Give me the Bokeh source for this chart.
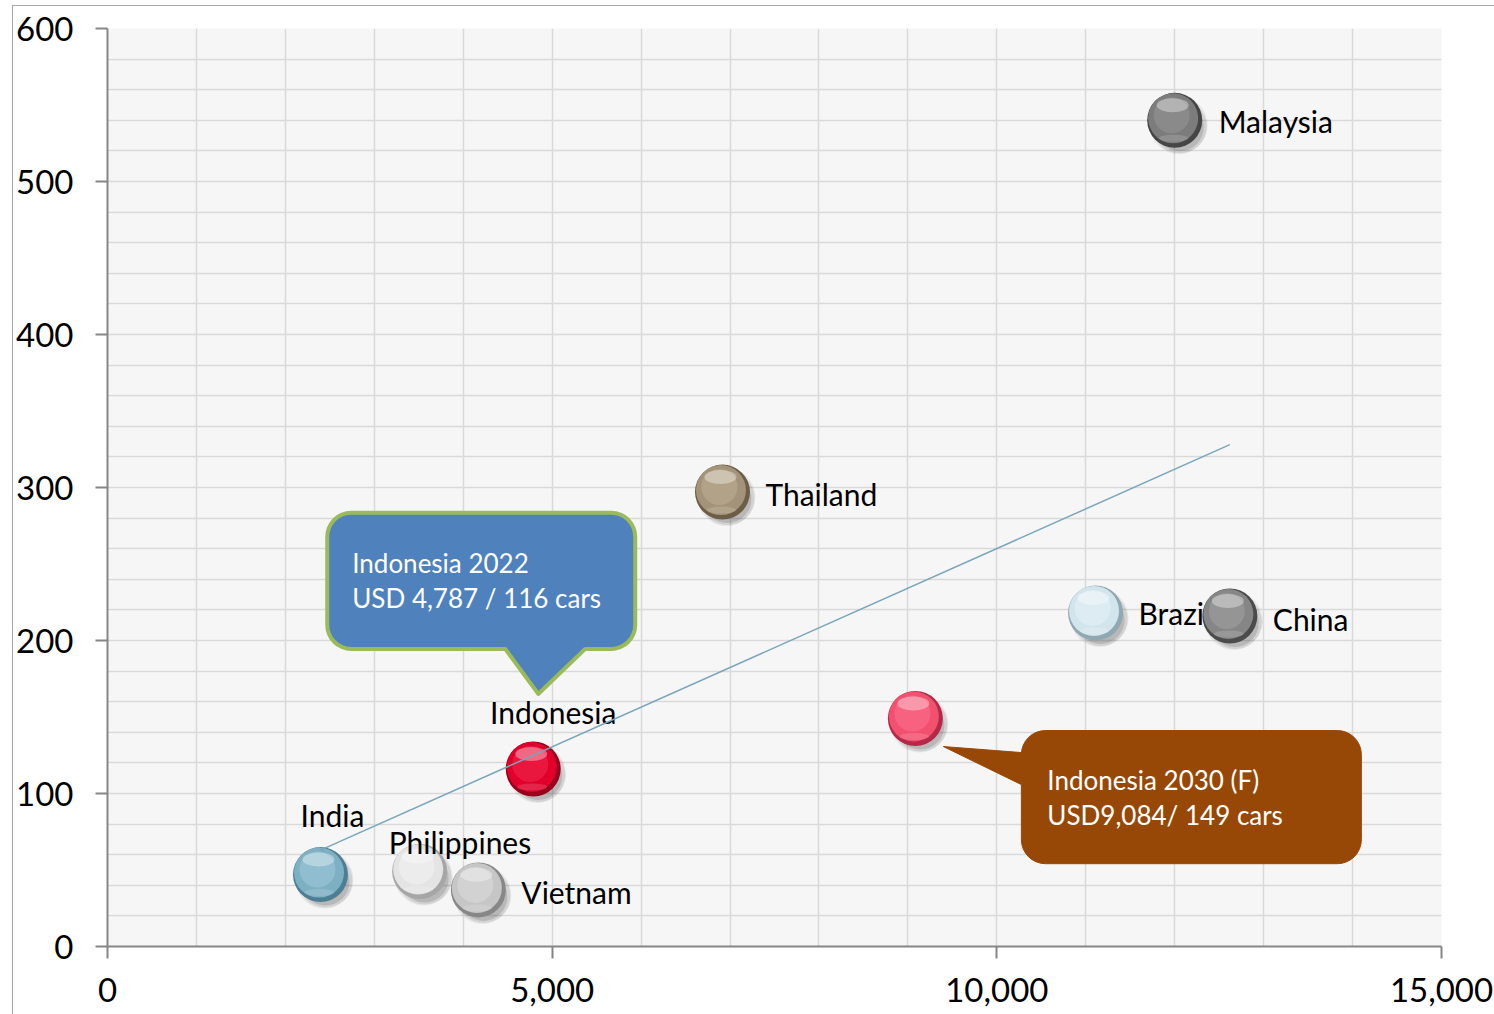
import math
from bokeh.plotting import figure
from bokeh.models import Range1d, SingleIntervalTicker, FixedTicker, NumeralTickFormatter
from bokeh.core.properties import value
from bokeh.embed import file_html
from bokeh.resources import INLINE

# ---- data -------------------------------------------------------------
countries = ["India", "Philippines", "Vietnam", "Indonesia", "Thailand", "Brazil", "China", "Malaysia"]
gdp_per_capita = [2395, 3510, 4170, 4787, 6915, 11110, 12620, 12000]
cars_per_1000 = [47, 49, 37, 116, 297, 218, 216, 540]

forecast_gdp = [9084]
forecast_cars = [149]

trend_x = [2395, 12620]
trend_y = [63, 328]

x_ticks = [0, 5000, 10000, 15000]

# ---- styling ----------------------------------------------------------
FONT = "Lato"
X_MAX, Y_MAX = 15000, 600
FRAME_W, FRAME_H = 1334, 917
UX = X_MAX / FRAME_W      # data units per screen pixel (x)
UY = Y_MAX / FRAME_H      # data units per screen pixel (y)

# sphere shades: base, rim, light
shades = {
    "India":       ("#7eb0c4", "#4c7f94", "#b9dbe8"),
    "Philippines": ("#e4e4e4", "#a6a6a6", "#ffffff"),
    "Vietnam":     ("#c6c6c6", "#878787", "#eeeeee"),
    "Indonesia":   ("#e0002b", "#98001b", "#ff4d6a"),
    "Thailand":    ("#a39378", "#6c5e46", "#d6c9af"),
    "Brazil":      ("#d3e5ec", "#90a8b2", "#f6fcff"),
    "China":       ("#868686", "#4b4b4b", "#b8b8b8"),
    "Malaysia":    ("#7c7c7c", "#454545", "#adadad"),
}
forecast_shade = ("#f2506f", "#b52846", "#ff8ea4")

# label offsets (screen px) relative to each point
label_dx = [-20, -31, 43, 20, 43, 43, 43, 44]
label_dy = [-60, -30, 2, -57, 2, 0, 3, 1]
label_align = ["left", "left", "left", "center", "left", "left", "left", "left"]
# labels that sit beneath neighbouring markers
under_markers = {"Brazil"}


def shift(xs, ys, dx_px, dy_px):
    return [x + dx_px * UX for x in xs], [y - dy_px * UY for y in ys]


p = figure(
    width=1482, height=1009,
    x_range=Range1d(0, X_MAX), y_range=Range1d(0, Y_MAX),
    output_backend="svg", toolbar_location=None,
    min_border_left=94, min_border_right=54, min_border_top=22, min_border_bottom=69,
    background_fill_color="#f6f6f6", border_fill_color="white",
    outline_line_color=None,
)
p.styles = {
    "margin-left": "12px", "margin-top": "5px",
    "border-left": "1px solid #a6a6a6", "border-top": "1px solid #a6a6a6",
}

# grid
p.xgrid.ticker = SingleIntervalTicker(interval=1000)
p.ygrid.ticker = SingleIntervalTicker(interval=20)
for g in (p.xgrid, p.ygrid):
    g.grid_line_color = "#d9d9d9"
    g.grid_line_width = 1.5

# axes
p.xaxis.ticker = FixedTicker(ticks=x_ticks)
p.xaxis.formatter = NumeralTickFormatter(format="0,0")
p.yaxis.ticker = SingleIntervalTicker(interval=100)
for ax in (p.xaxis, p.yaxis):
    ax.axis_line_color = "#868686"
    ax.axis_line_width = 2
    ax.major_tick_line_color = "#868686"
    ax.major_tick_line_width = 2
    ax.major_tick_out = 12
    ax.major_tick_in = 0
    ax.minor_tick_out = 0
    ax.minor_tick_in = 0
    ax.major_label_text_font = FONT
    ax.major_label_text_font_size = "33px"
    ax.major_label_text_color = "black"
p.xaxis.major_label_standoff = 19
p.yaxis.major_label_standoff = 22


def draw_labels(names):
    idx = [i for i, c in enumerate(countries) if c in names]
    p.text(
        x=[gdp_per_capita[i] for i in idx], y=[cars_per_1000[i] for i in idx],
        text=[countries[i] for i in idx],
        x_offset=[label_dx[i] for i in idx], y_offset=[label_dy[i] for i in idx],
        text_align=[label_align[i] for i in idx],
        text_baseline="middle", text_font=value(FONT), text_font_size="30px",
        text_color="black",
    )


draw_labels(under_markers)

# spheres
all_x = gdp_per_capita + forecast_gdp
all_y = cars_per_1000 + forecast_cars
cols = [shades[c] for c in countries] + [forecast_shade]
base = [c[0] for c in cols]
rim = [c[1] for c in cols]
light = [c[2] for c in cols]

for (dx, dy, size, alpha) in [(4, 5, 58, 0.06), (5, 6, 54, 0.09), (5, 7, 48, 0.12)]:
    sx, sy = shift(all_x, all_y, dx, dy)
    p.scatter(sx, sy, size=size, fill_color="black", fill_alpha=alpha, line_color=None)

p.scatter(all_x, all_y, size=55, fill_color=rim, line_color=None)
bx, by = shift(all_x, all_y, -1.5, -2)
p.scatter(bx, by, size=50, fill_color=base, line_color=None)
gx, gy = shift(all_x, all_y, -3, -5)
p.scatter(gx, gy, size=36, fill_color=light, fill_alpha=0.3, line_color=None)
hx, hy = shift(all_x, all_y, -2, -15)
p.ellipse(hx, hy, width=32, height=14, width_units="screen", height_units="screen",
          fill_color="white", fill_alpha=0.35, line_color=None)
lx, ly = shift(all_x, all_y, -1, 18)
p.ellipse(lx, ly, width=30, height=7, width_units="screen", height_units="screen",
          fill_color="white", fill_alpha=0.15, line_color=None)

draw_labels(set(countries) - under_markers)

# trend line
p.line(trend_x, trend_y, line_color="#78a6ba", line_width=1.5)


def callout(anchor_x, anchor_y, left, top, right, bottom, r, side, pointer):
    """Rounded box with a pointer; geometry in screen px relative to the anchor."""
    pts = []

    def arc(cx, cy, a0, a1):
        for i in range(9):
            a = math.radians(a0 + (a1 - a0) * i / 8)
            pts.append((cx + r * math.cos(a), cy + r * math.sin(a)))

    # clockwise in screen coordinates (y down)
    arc(left + r, top + r, 180, 270)
    arc(right - r, top + r, 270, 360)
    arc(right - r, bottom - r, 0, 90)
    if side == "bottom":
        pts.extend(pointer)
    arc(left + r, bottom - r, 90, 180)
    if side == "left":
        pts.extend(pointer)
    xs = [anchor_x + px * UX for px, _ in pts]
    ys = [anchor_y - py * UY for _, py in pts]
    return xs, ys


# Indonesia 2022 callout
ix, iy = gdp_per_capita[3], cars_per_1000[3]
cx, cy = callout(ix, iy, -206, -256, 102, -120, 24, "bottom",
                 [(52, -120), (5, -75), (-28, -120)])
p.patch(cx, cy, fill_color="#4f81bd", line_color="#9bbb59", line_width=4, line_join="round")
p.text(x=[ix, ix], y=[iy, iy], text=["Indonesia 2022", "USD 4,787 / 116 cars"],
       x_offset=[-181, -181], y_offset=[-206, -171], text_align="left",
       text_baseline="middle", text_font=value(FONT), text_font_size="26px",
       text_color="white")

# Indonesia 2030 forecast callout
fx, fy = forecast_gdp[0], forecast_cars[0]
cx, cy = callout(fx, fy, 106, 12, 446, 145, 24, "left",
                 [(106, 66), (28, 28), (106, 34)])
p.patch(cx, cy, fill_color="#974806", line_color="#974806", line_width=1)
p.text(x=[fx, fx], y=[fy, fy], text=["Indonesia 2030 (F)", "USD9,084/ 149 cars"],
       x_offset=[132, 132], y_offset=[61, 96], text_align="left",
       text_baseline="middle", text_font=value(FONT), text_font_size="26px",
       text_color="white")

open("out.html", "w").write(file_html(p, INLINE))
